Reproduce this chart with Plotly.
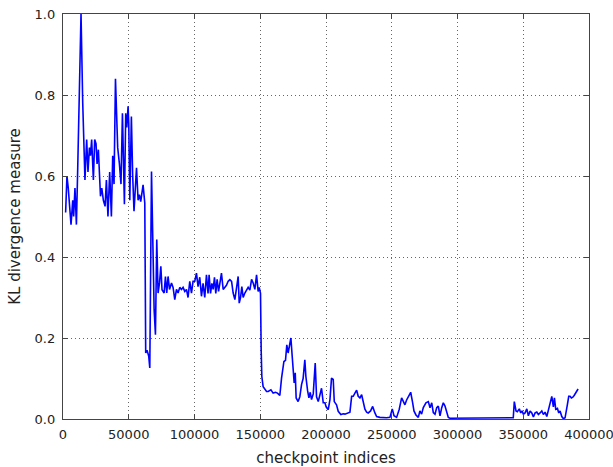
import plotly.graph_objects as go

checkpoints = [
    2000, 3000, 4000, 5100, 6100, 7400, 8100, 9100, 10200, 11200, 13700, 15000, 16700, 18000, 19000,
    20100, 20900, 21800, 23100, 24100, 25100, 25900, 26900, 28500, 29500, 30700, 32000, 33000, 34200,
    35500, 36800, 37800, 38800, 39900, 41600, 42900, 44100, 45200, 46700, 47700, 48500, 49500, 50000,
    50800, 52000, 53000, 54000, 55900, 57100, 58100, 59100, 60900, 62200, 62900, 63900, 65200, 66000,
    67300, 68300, 69300, 70300, 71300, 72300, 73400, 74400, 75300, 76900, 77900, 78900, 79900, 81000,
    82500, 83700, 85000, 86300, 87500, 88800, 90100, 91300, 92600, 93900, 95100, 96400, 97700, 98900,
    100200, 101500, 102700, 104000, 105300, 106500, 107800, 109100, 110300, 111100, 112200, 113200,
    114200, 115200, 116200, 117200, 118300, 119300, 120500, 121800, 123100, 124300, 125600, 126900,
    128200, 129400, 130700, 132000, 133200, 134000, 135000, 136000, 137000, 138300, 139600, 140800,
    142100, 143400, 144600, 145900, 147200, 148400, 149200, 150200, 150700, 151200, 152200, 153500,
    154800, 156000, 158100, 159800, 161600, 163100, 164900, 166200, 168000, 169200, 170200, 171200,
    172300, 173300, 174300, 175000, 175800, 176600, 177300, 178800, 180100, 181400, 182600, 183900,
    184700, 186000, 187000, 188000, 189000, 190300, 191800, 192800, 194100, 195400, 196600, 197900,
    199200, 200100, 201700, 203000, 204200, 205500, 206300, 208000, 209300, 211300, 213100, 214400,
    218200, 219500, 220700, 222000, 223300, 224500, 225800, 227100, 228300, 229600, 230900, 232100,
    233900, 235500, 237200, 238500, 241000, 243500, 246100, 248600, 250400, 251700, 253700, 255700,
    257500, 258700, 260000, 261300, 262500, 264400, 265900, 266900, 268400, 270200, 271400, 272700,
    274000, 276000, 277800, 279100, 280400, 281600, 282900, 284200, 285400, 286700, 288000, 289200,
    290500, 291800, 293000, 294300, 296800, 305000, 315000, 325000, 335000, 342400, 343200, 344500,
    345500, 347000, 348100, 349100, 350100, 351400, 352700, 353900, 355200, 356500, 357700, 359000,
    360300, 361500, 362800, 364100, 365300, 366600, 367900, 369100, 370400, 371700, 372900, 373700,
    374700, 376000, 377000, 378000, 379300, 380500, 381800, 382600, 383600, 384600, 385600, 386600,
    387700, 388700, 389600, 390700, 391700,
]

kl_divergence = [
    0.51, 0.60, 0.57, 0.52, 0.48, 0.54, 0.50, 0.57, 0.48, 0.62, 1.00, 0.78, 0.59, 0.69, 0.61,
    0.67, 0.65, 0.69, 0.59, 0.69, 0.68, 0.63, 0.665, 0.55, 0.57, 0.54, 0.525, 0.59, 0.50,
    0.61, 0.50, 0.65, 0.58, 0.84, 0.67, 0.63, 0.58, 0.755, 0.53, 0.755, 0.72, 0.772, 0.73,
    0.54, 0.747, 0.60, 0.513, 0.62, 0.54, 0.554, 0.537, 0.578, 0.533, 0.163, 0.17, 0.155, 0.126,
    0.611, 0.435, 0.27, 0.208, 0.443, 0.311, 0.336, 0.377, 0.319, 0.311, 0.352, 0.311, 0.352, 0.32,
    0.336, 0.325, 0.295, 0.32, 0.311, 0.325, 0.32, 0.325, 0.315, 0.32, 0.30, 0.34, 0.311, 0.34,
    0.34, 0.36, 0.327, 0.35, 0.303, 0.335, 0.30, 0.356, 0.31, 0.356, 0.31, 0.335,
    0.32, 0.35, 0.31, 0.345, 0.315, 0.335, 0.36, 0.32, 0.325, 0.33, 0.34, 0.344,
    0.34, 0.311, 0.295, 0.327, 0.352, 0.286, 0.30, 0.327, 0.30, 0.311, 0.32, 0.325,
    0.318, 0.345, 0.336, 0.32, 0.356, 0.315, 0.325, 0.31, 0.171, 0.105, 0.08, 0.075,
    0.068, 0.068, 0.072, 0.064, 0.066, 0.064, 0.058, 0.101, 0.142, 0.145, 0.183, 0.163,
    0.18, 0.20, 0.155, 0.109, 0.089, 0.114, 0.052, 0.043, 0.055, 0.085, 0.10, 0.146,
    0.105, 0.07, 0.052, 0.066, 0.048, 0.062, 0.138, 0.055, 0.043, 0.06, 0.076, 0.04,
    0.04, 0.03, 0.023, 0.048, 0.101, 0.098, 0.043, 0.035, 0.019, 0.011, 0.013, 0.012,
    0.017, 0.056, 0.056, 0.064, 0.071, 0.056, 0.052, 0.06, 0.04, 0.024, 0.017, 0.015,
    0.02, 0.031, 0.015, 0.006, 0.004, 0.003, 0.003, 0.004, 0.025, 0.008, 0.004, 0.024,
    0.052, 0.044, 0.035, 0.047, 0.055, 0.066, 0.04, 0.02, 0.01, 0.004, 0.02, 0.012,
    0.028, 0.04, 0.043, 0.028, 0.04, 0.016, 0.012, 0.028, 0.032, 0.008, 0.028, 0.04,
    0.032, 0.02, 0.004, 0.002, 0.002, 0.002, 0.002, 0.002, 0.002, 0.003, 0.043, 0.02,
    0.018, 0.025, 0.015, 0.02, 0.012, 0.015, 0.025, 0.008, 0.02, 0.015, 0.005, 0.015,
    0.017, 0.011, 0.015, 0.02, 0.011, 0.017, 0.006, 0.024, 0.04, 0.056, 0.03, 0.052,
    0.024, 0.026, 0.015, 0.02, 0.006, 0.001, 0.003, 0.024, 0.036, 0.056, 0.056, 0.052,
    0.054, 0.058, 0.064, 0.071, 0.074,
]

x_ticks = [0, 50000, 100000, 150000, 200000, 250000, 300000, 350000, 400000]
x_tick_labels = ["0", "50000", "100000", "150000", "200000", "250000", "300000", "350000", "400000"]
y_ticks = [0.0, 0.2, 0.4, 0.6, 0.8, 1.0]
y_tick_labels = ["0.0", "0.2", "0.4", "0.6", "0.8", "1.0"]

fig = go.Figure()
fig.add_trace(go.Scatter(
    x=checkpoints, y=kl_divergence, mode="lines",
    line=dict(color="#0000ff", width=1.6),
    showlegend=False, hoverinfo="skip",
))

axis_common = dict(
    showline=True, linecolor="#444444", linewidth=1.3, mirror="ticks",
    ticks="inside", ticklen=5, tickcolor="#444444", tickwidth=1,
    showgrid=True, gridcolor="#666666", gridwidth=1, griddash="1px,3px",
    zeroline=False, automargin=False, ticklabeloverflow="allow",
    tickfont=dict(family="DejaVu Sans", size=13, color="#222222"),
)

fig.update_xaxes(
    range=[0, 400000], tickvals=x_ticks, ticktext=x_tick_labels,
    title=dict(text="checkpoint indices", font=dict(family="DejaVu Sans", size=15, color="#222222"), standoff=12),
    ticklabelstandoff=3,
    **axis_common,
)
fig.update_yaxes(
    range=[0, 1.0], tickvals=y_ticks, ticktext=y_tick_labels,
    title=dict(text="KL divergence measure", font=dict(family="DejaVu Sans", size=15, color="#222222"), standoff=10),
    ticklabelstandoff=4,
    **axis_common,
)

fig.update_layout(
    width=613, height=467,
    margin=dict(l=63, r=24, t=14, b=48),
    paper_bgcolor="white", plot_bgcolor="white",
    font=dict(family="DejaVu Sans"),
)

fig.write_html("out.html")
